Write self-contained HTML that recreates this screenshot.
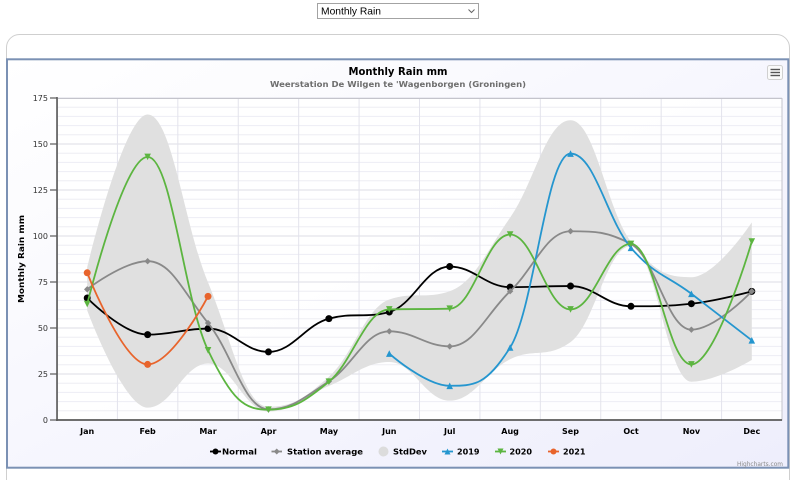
<!DOCTYPE html>
<html><head><meta charset="utf-8"><style>
html,body{margin:0;padding:0;background:#fff;}
svg{display:block;}
.t{font-family:"DejaVu Sans","Liberation Sans",sans-serif;}
</style></head><body>
<svg id="s" width="800" height="480" viewBox="0 0 800 480" xmlns="http://www.w3.org/2000/svg">
<defs>
<linearGradient id="bg" x1="0" y1="0" x2="1" y2="1">
<stop offset="0" stop-color="#ffffff"/><stop offset="1" stop-color="#eeeefc"/>
</linearGradient>
<clipPath id="pc"><rect x="57" y="98" width="725" height="322"/></clipPath>
</defs>
<rect width="800" height="480" fill="#fff"/>
<!-- select -->
<rect x="317.5" y="3.5" width="161" height="15" fill="#fff" stroke="#a3a3a3"/>
<text x="321" y="14.5" font-family="Liberation Sans, sans-serif" font-size="10.5" fill="#000" textLength="60" lengthAdjust="spacingAndGlyphs">Monthly Rain</text>
<polyline points="468.5,9.5 471.5,12.5 474.5,9.5" fill="none" stroke="#666" stroke-width="1"/>
<!-- card -->
<path d="M6.5 480 V47.5 A13 13 0 0 1 19.5 34.5 H776.5 A13 13 0 0 1 789.5 47.5 V480" fill="#fff" stroke="#cfcfcf"/>
<!-- chart -->
<rect x="7" y="59.3" width="781.3" height="408.4" fill="url(#bg)" stroke="#7b91b4" stroke-width="2"/>
<text class="t" x="398" y="75" text-anchor="middle" font-size="11" font-weight="bold" fill="#000" textLength="99" lengthAdjust="spacingAndGlyphs">Monthly Rain mm</text>
<text class="t" x="398" y="87" text-anchor="middle" font-size="8" font-weight="bold" fill="#6e6e6e" textLength="256" lengthAdjust="spacingAndGlyphs">Weerstation De Wilgen te 'Wagenborgen (Groningen)</text>
<!-- menu -->
<rect x="767.5" y="65.5" width="15" height="14" rx="2" fill="#fafafa" stroke="#d0d0d0"/>
<g stroke="#555" stroke-width="1.4"><line x1="770.5" y1="69.5" x2="780" y2="69.5"/><line x1="770.5" y1="72.5" x2="780" y2="72.5"/><line x1="770.5" y1="75.5" x2="780" y2="75.5"/></g>
<!-- plot area -->
<rect x="57" y="98" width="725" height="322" fill="#fff" fill-opacity="0.9"/>
<g id="grid"></g>
<rect x="57.5" y="98.5" width="724.5" height="321.5" fill="none" stroke="#c4c4cc" stroke-width="1"/>
<g id="series" clip-path="url(#pc)"></g>
<!-- axes -->
<line x1="57" y1="97" x2="57" y2="421" stroke="#5a5a5a" stroke-width="1.6"/>
<line x1="56" y1="420" x2="782" y2="420" stroke="#5a5a5a" stroke-width="1.8"/>
<g stroke="#5a5a5a" stroke-width="1.2">
<line x1="50" y1="98" x2="57" y2="98"/><line x1="50" y1="144" x2="57" y2="144"/><line x1="50" y1="190" x2="57" y2="190"/><line x1="50" y1="236" x2="57" y2="236"/><line x1="50" y1="282" x2="57" y2="282"/><line x1="50" y1="328" x2="57" y2="328"/><line x1="50" y1="374" x2="57" y2="374"/><line x1="50" y1="420" x2="57" y2="420"/>
</g>
<g class="t" font-size="8" fill="#333" text-anchor="end">
<text x="48" y="101">175</text><text x="48" y="147">150</text><text x="48" y="193">125</text><text x="48" y="239">100</text><text x="48" y="285">75</text><text x="48" y="331">50</text><text x="48" y="377">25</text><text x="48" y="423">0</text>
</g>
<text class="t" transform="translate(24,259) rotate(-90)" text-anchor="middle" font-size="8" font-weight="bold" fill="#000" textLength="88" lengthAdjust="spacingAndGlyphs">Monthly Rain mm</text>
<g class="t" font-size="8" font-weight="bold" fill="#000" text-anchor="middle">
<text x="87.2" y="434">Jan</text><text x="147.6" y="434">Feb</text><text x="208" y="434">Mar</text><text x="268.5" y="434">Apr</text><text x="328.9" y="434">May</text><text x="389.3" y="434">Jun</text><text x="449.7" y="434">Jul</text><text x="510.1" y="434">Aug</text><text x="570.5" y="434">Sep</text><text x="631" y="434">Oct</text><text x="691.4" y="434">Nov</text><text x="751.8" y="434">Dec</text>
</g>
<!-- legend -->
<g id="legend"></g>
<g class="t" font-size="8" font-weight="bold" fill="#000">
<text x="222" y="454.5" textLength="35" lengthAdjust="spacingAndGlyphs">Normal</text>
<text x="287" y="454.5" textLength="76" lengthAdjust="spacingAndGlyphs">Station average</text>
<text x="393" y="454.5" textLength="34" lengthAdjust="spacingAndGlyphs">StdDev</text>
<text x="457" y="454.5" textLength="22.5" lengthAdjust="spacingAndGlyphs">2019</text>
<text x="509.5" y="454.5" textLength="22.5" lengthAdjust="spacingAndGlyphs">2020</text>
<text x="563" y="454.5" textLength="22.5" lengthAdjust="spacingAndGlyphs">2021</text>
</g>
<text class="t" x="783" y="466" text-anchor="end" font-size="6" fill="#8a8a8a" textLength="46" lengthAdjust="spacingAndGlyphs">Highcharts.com</text>
</svg>
<script>
(function(){
var NS="http://www.w3.org/2000/svg";
var X0=57,PW=725,Y0=420,K=322/175;
function xp(i){return X0+(i+0.5)*PW/12;}
function yp(v){return Y0-v*K;}
function el(tag,attrs,parent){var e=document.createElementNS(NS,tag);for(var k in attrs)e.setAttribute(k,attrs[k]);parent.appendChild(e);return e;}
function spline(pts){
  var d='',n=pts.length,rcx=null,rcy=null;
  for(var i=0;i<n;i++){
    var px=pts[i][0],py=pts[i][1],lcx=null,lcy=null,ncx=null,ncy=null;
    if(i>0&&i<n-1){
      var lx=pts[i-1][0],ly=pts[i-1][1],nx=pts[i+1][0],ny=pts[i+1][1];
      lcx=(1.5*px+lx)/2.5;lcy=(1.5*py+ly)/2.5;
      var rx=(1.5*px+nx)/2.5,ry=(1.5*py+ny)/2.5;
      var corr=((ry-lcy)*(rx-px))/(rx-lcx)+py-ry;lcy+=corr;ry+=corr;
      if(lcy>ly&&lcy>py){lcy=Math.max(ly,py);ry=2*py-lcy;}else if(lcy<ly&&lcy<py){lcy=Math.min(ly,py);ry=2*py-lcy;}
      if(ry>ny&&ry>py){ry=Math.max(ny,py);lcy=2*py-ry;}else if(ry<ny&&ry<py){ry=Math.min(ny,py);lcy=2*py-ry;}
      ncx=rx;ncy=ry;
    }
    if(i===0)d+='M'+px+' '+py;
    else d+=' C'+(rcx!==null?rcx:pts[i-1][0])+' '+(rcy!==null?rcy:pts[i-1][1])+' '+(lcx!==null?lcx:px)+' '+(lcy!==null?lcy:py)+' '+px+' '+py;
    rcx=ncx;rcy=ncy;
  }
  return d;
}
function toPts(arr){var p=[];for(var i=0;i<arr.length;i++){if(arr[i]!==null)p.push([xp(i),yp(arr[i])]);}return p;}
function marker(type,x,y,r,color,parent){
  if(type==='circle')return el('circle',{cx:x,cy:y,r:r,fill:color},parent);
  var d;
  if(type==='diamond')d='M'+x+' '+(y-r)+' L'+(x+r)+' '+y+' L'+x+' '+(y+r)+' L'+(x-r)+' '+y+' Z';
  else if(type==='triangle')d='M'+x+' '+(y-r)+' L'+(x+r)+' '+(y+r)+' L'+(x-r)+' '+(y+r)+' Z';
  else d='M'+(x-r)+' '+(y-r)+' L'+(x+r)+' '+(y-r)+' L'+x+' '+(y+r)+' Z';
  return el('path',{d:d,fill:color},parent);
}
var g=document.getElementById('grid');
for(var v=5;v<175;v+=5){if(v%25===0)continue;var y=yp(v);el('line',{x1:57,x2:782,y1:y,y2:y,stroke:'#ededf4','stroke-width':1},g);}
for(var v=25;v<=175;v+=25){var y=yp(v);el('line',{x1:57,x2:782,y1:y,y2:y,stroke:'#dcdce6','stroke-width':1},g);}
for(var k=1;k<12;k++){var x=X0+k*PW/12;el('line',{x1:x,x2:x,y1:98,y2:420,stroke:'#e3e3ec','stroke-width':1},g);}
var S=document.getElementById('series');
var avg=[71.0,86.3,52.7,5.8,21,48.2,40.0,70,102.6,95.7,49.1,70];
var lo=[59.6,6.7,30.7,4.6,18.5,31.5,10.5,33,42.3,94.5,20.8,32.6];
var hi=[83,166,74.7,7.2,23.5,65.5,70,110,162.9,97,77.6,107.4];
var hp=toPts(hi),lp=toPts(lo).reverse();
var bd=spline(hp)+' L'+spline(lp).substring(1)+' Z';
el('path',{d:bd,fill:'#e0e0e0',stroke:'none'},S);
var series=[
 {data:[66.3,46.4,49.7,37.0,55.1,58.7,83.4,72.2,72.8,61.8,63.2,69.9],color:'#000000',m:'circle',r:3.5},
 {data:avg,color:'#898989',m:'diamond',r:3.2},
 {data:[null,null,null,null,null,36.1,18.6,39.4,144.8,93.6,68.6,43.3],color:'#2596cf',m:'triangle',r:3.3},
 {data:[63,143,37.9,5.6,20.8,60.1,60.5,100.8,60.1,95.7,30.2,97],color:'#5cb540',m:'tridown',r:3.3},
 {data:[80,30.2,67.2,null,null,null,null,null,null,null,null,null],color:'#e8642c',m:'circle',r:3.5}
];
series.forEach(function(s){
  var p=toPts(s.data);
  el('path',{d:spline(p),fill:'none',stroke:s.color,'stroke-width':1.8,'stroke-linejoin':'round','stroke-linecap':'round'},S);
  p.forEach(function(q){marker(s.m,q[0],q[1],s.r,s.color,S);});
});
var L=document.getElementById('legend'),ly=451.5;
var leg=[[210,221,'#000','circle',3],[271.5,282,'#898989','diamond',3],[442,453,'#2596cf','triangle',3],[495,506,'#5cb540','tridown',3],[548,559,'#e8642c','circle',3]];
leg.forEach(function(a){el('line',{x1:a[0],x2:a[1],y1:ly,y2:ly,stroke:a[2],'stroke-width':1.8},L);marker(a[3],(a[0]+a[1])/2,ly,a[4],a[2],L);});
el('circle',{cx:383.5,cy:ly,r:5,fill:'#dcdcdc'},L);
})();
</script>
</body></html>
